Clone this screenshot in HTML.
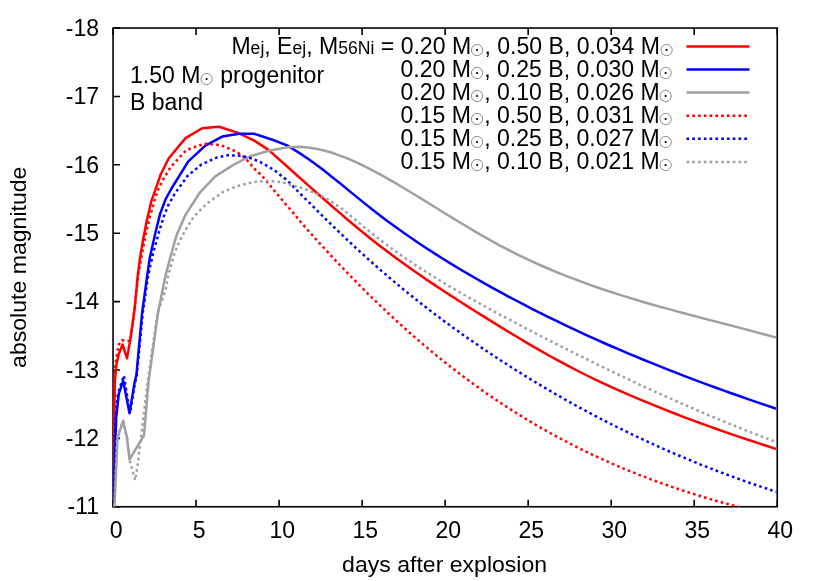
<!DOCTYPE html>
<html><head><meta charset="utf-8"><title>plot</title>
<style>
html,body{margin:0;padding:0;background:#fff;}
body{width:830px;height:581px;position:relative;overflow:hidden;font-family:"Liberation Sans",sans-serif;}
#w{position:absolute;left:0;top:0;width:830px;height:581px;will-change:transform;}
.t{position:absolute;white-space:nowrap;line-height:28.0px;height:28.0px;color:#000;}
.k{right:156.6px;font-size:23.6px;transform:scaleX(0.977);transform-origin:100% 50%;}
.l{left:129.9px;font-size:23.3px;transform:scaleX(0.99);transform-origin:0 50%;}
.s{font-size:18px;}
.sun{display:inline-block;vertical-align:baseline;position:relative;top:3px;overflow:visible;}
</style></head><body><div id="w">
<svg width="830" height="581" viewBox="0 0 830 581" style="position:absolute;left:0;top:0">
<defs><clipPath id="c"><rect x="113.05" y="28.05" width="663.40" height="478.70"/></clipPath></defs>
<g fill="none" stroke-width="2.50">
<line x1="686.5" y1="46.4" x2="749.5" y2="46.4" stroke="#ff0000"/>
<line x1="686.5" y1="69.5" x2="749.5" y2="69.5" stroke="#0000ff"/>
<line x1="686.5" y1="92.6" x2="749.5" y2="92.6" stroke="#a0a0a0"/>
<line x1="686.5" y1="115.7" x2="749.5" y2="115.7" stroke="#ff0000" stroke-dasharray="2.65 3.13"/>
<line x1="686.5" y1="138.8" x2="749.5" y2="138.8" stroke="#0000ff" stroke-dasharray="2.65 3.13"/>
<line x1="686.5" y1="161.9" x2="749.5" y2="161.9" stroke="#a0a0a0" stroke-dasharray="2.65 3.13"/>
</g>
<g fill="none" stroke="#000" stroke-width="1.6">
<rect x="113.05" y="28.05" width="664.20" height="478.70"/>
<path d="M113.05,506.75v-7.0M113.05,28.05v7.0M196.07,506.75v-7.0M196.07,28.05v7.0M279.10,506.75v-7.0M279.10,28.05v7.0M362.12,506.75v-7.0M362.12,28.05v7.0M445.15,506.75v-7.0M445.15,28.05v7.0M528.17,506.75v-7.0M528.17,28.05v7.0M611.20,506.75v-7.0M611.20,28.05v7.0M694.22,506.75v-7.0M694.22,28.05v7.0M777.25,506.75v-7.0M777.25,28.05v7.0M113.05,28.05h7.0M113.05,96.44h7.0M113.05,164.82h7.0M113.05,233.21h7.0M113.05,301.59h7.0M113.05,369.98h7.0M113.05,438.36h7.0M113.05,506.75h7.0"/>
</g>
<g clip-path="url(#c)" fill="none" stroke-width="2.50" stroke-linejoin="round">
<polyline points="113.3,506.7 114.0,440.0 114.8,383.0 116.3,365.3 118.8,354.0 122.6,344.5 127.0,358.4 130.2,340.2 134.5,310.0 137.7,276.4 140.0,257.9 143.2,239.0 146.9,220.2 151.3,201.3 155.0,190.9 160.7,174.5 168.8,158.2 185.6,138.1 202.1,128.3 219.1,126.8 236.7,132.4 254.0,140.4 268.8,150.1 287.7,167.0 300.0,178.0 308.0,185.1 316.0,192.2 324.0,199.2 332.0,206.2 340.0,213.1 348.0,220.0 356.0,226.7 364.0,233.2 372.0,239.7 380.0,245.9 388.0,252.0 396.0,258.0 404.0,263.8 412.0,269.5 420.0,275.1 428.0,280.6 436.0,285.9 444.0,291.2 452.0,296.4 460.0,301.5 468.0,306.6 476.0,311.7 484.0,316.6 492.0,321.6 500.0,326.6 508.0,331.5 516.0,336.3 524.0,341.1 532.0,345.8 540.0,350.4 548.0,355.0 556.0,359.4 564.0,363.7 572.0,367.9 580.0,372.0 588.0,376.0 596.0,379.8 604.0,383.6 612.0,387.3 620.0,390.8 628.0,394.3 636.0,397.8 644.0,401.1 652.0,404.4 660.0,407.7 668.0,410.9 676.0,414.0 684.0,417.1 692.0,420.1 700.0,423.0 708.0,425.9 716.0,428.8 724.0,431.6 732.0,434.4 740.0,437.1 748.0,439.8 756.0,442.4 764.0,445.0 772.0,447.6 776.6,449.1" stroke="#ff0000"/>
<polyline points="113.6,506.7 115.1,447.9 116.3,416.5 118.8,393.8 123.2,380.7 129.5,413.3 134.5,382.9 136.4,375.0 142.1,312.9 147.1,276.4 149.8,257.9 152.6,245.3 155.7,231.5 160.1,213.9 165.8,198.8 171.5,188.5 188.3,161.3 205.3,145.6 222.2,136.6 239.2,133.7 254.0,133.7 273.2,140.0 287.7,145.7 300.0,153.4 308.0,158.7 316.0,164.5 324.0,170.6 332.0,176.9 340.0,183.3 348.0,189.9 356.0,196.4 364.0,202.9 372.0,209.3 380.0,215.4 388.0,221.5 396.0,227.3 404.0,233.0 412.0,238.6 420.0,244.0 428.0,249.3 436.0,254.4 444.0,259.5 452.0,264.4 460.0,269.2 468.0,273.9 476.0,278.5 484.0,283.1 492.0,287.6 500.0,291.9 508.0,296.3 516.0,300.5 524.0,304.7 532.0,308.8 540.0,312.8 548.0,316.8 556.0,320.7 564.0,324.6 572.0,328.4 580.0,332.1 588.0,335.8 596.0,339.4 604.0,343.0 612.0,346.5 620.0,349.9 628.0,353.3 636.0,356.7 644.0,360.0 652.0,363.2 660.0,366.4 668.0,369.6 676.0,372.7 684.0,375.8 692.0,378.8 700.0,381.8 708.0,384.8 716.0,387.7 724.0,390.6 732.0,393.5 740.0,396.3 748.0,399.1 756.0,401.9 764.0,404.6 772.0,407.3 776.6,408.9" stroke="#0000ff"/>
<polyline points="114.4,506.6 117.6,437.8 123.2,420.9 127.0,437.8 129.5,459.5 144.0,435.3 148.4,382.9 158.0,312.9 165.3,276.4 170.2,257.9 176.5,235.3 185.3,215.2 200.0,192.3 215.3,176.4 232.9,165.1 249.5,156.5 268.8,150.7 287.7,147.3 300.0,146.7 308.0,147.4 316.0,148.7 324.0,150.5 332.0,152.8 340.0,155.6 348.0,158.7 356.0,162.2 364.0,166.0 372.0,170.1 380.0,174.4 388.0,178.8 396.0,183.4 404.0,188.2 412.0,193.0 420.0,197.9 428.0,202.8 436.0,207.7 444.0,212.7 452.0,217.6 460.0,222.5 468.0,227.3 476.0,232.1 484.0,236.7 492.0,241.2 500.0,245.6 508.0,249.7 516.0,253.8 524.0,257.7 532.0,261.4 540.0,265.0 548.0,268.5 556.0,271.9 564.0,275.1 572.0,278.2 580.0,281.2 588.0,284.1 596.0,287.0 604.0,289.7 612.0,292.3 620.0,294.9 628.0,297.4 636.0,299.8 644.0,302.2 652.0,304.5 660.0,306.7 668.0,308.9 676.0,311.1 684.0,313.3 692.0,315.4 700.0,317.5 708.0,319.6 716.0,321.6 724.0,323.7 732.0,325.8 740.0,327.9 748.0,330.0 756.0,332.1 764.0,334.3 772.0,336.4 776.0,337.5" stroke="#a0a0a0"/>
<polyline points="113.2,506.7 113.6,440.0 114.2,383.0 115.5,365.0 117.0,354.0 118.8,344.5 122.0,340.2 126.4,340.8 130.2,341.0 134.5,310.0 138.0,276.4 141.3,257.9 143.8,244.0 146.9,229.0 150.7,213.9 155.1,198.8 157.5,190.9 163.8,178.3 170.7,167.0 186.4,150.0 204.0,143.8 220.4,145.0 236.7,151.7 245.5,158.2 254.0,168.3 262.6,176.4 275.1,191.5 287.7,206.6 292.7,212.2 300.0,221.2 308.0,230.3 316.0,239.2 324.0,248.0 332.0,256.6 340.0,265.1 348.0,273.5 356.0,281.7 364.0,289.8 372.0,297.7 380.0,305.4 388.0,313.0 396.0,320.4 404.0,327.7 412.0,334.8 420.0,341.7 428.0,348.5 436.0,355.1 444.0,361.6 452.0,367.9 460.0,374.0 468.0,380.0 476.0,385.9 484.0,391.6 492.0,397.1 500.0,402.5 508.0,407.7 516.0,412.8 524.0,417.8 532.0,422.6 540.0,427.3 548.0,431.8 556.0,436.2 564.0,440.5 572.0,444.7 580.0,448.7 588.0,452.6 596.0,456.4 604.0,460.0 612.0,463.6 620.0,467.0 628.0,470.4 636.0,473.6 644.0,476.7 652.0,479.8 660.0,482.7 668.0,485.5 676.0,488.3 684.0,490.9 692.0,493.5 700.0,496.0 708.0,498.4 716.0,500.7 724.0,503.0 732.0,505.1 740.0,507.2 745.0,508.5" stroke="#ff0000" stroke-dasharray="2.65 3.13"/>
<polyline points="113.4,506.7 114.6,447.9 115.6,416.5 118.0,393.0 123.9,375.6 130.0,413.3 135.0,382.9 136.8,375.0 142.8,312.9 148.0,276.4 152.6,255.4 155.7,244.0 159.5,230.2 163.9,216.4 168.3,205.1 175.5,192.5 187.7,175.8 201.5,164.5 216.6,157.6 227.9,155.3 240.5,155.7 252.0,158.5 262.6,163.2 275.1,170.8 287.7,180.8 300.0,193.5 308.0,201.4 316.0,209.4 324.0,217.4 332.0,225.2 340.0,232.9 348.0,240.5 356.0,248.0 364.0,255.3 372.0,262.5 380.0,269.6 388.0,276.5 396.0,283.2 404.0,289.9 412.0,296.3 420.0,302.7 428.0,308.9 436.0,315.0 444.0,321.0 452.0,326.9 460.0,332.6 468.0,338.3 476.0,343.8 484.0,349.3 492.0,354.6 500.0,359.9 508.0,365.1 516.0,370.2 524.0,375.2 532.0,380.1 540.0,384.9 548.0,389.7 556.0,394.3 564.0,398.9 572.0,403.4 580.0,407.8 588.0,412.1 596.0,416.3 604.0,420.5 612.0,424.5 620.0,428.5 628.0,432.4 636.0,436.3 644.0,440.0 652.0,443.7 660.0,447.3 668.0,450.9 676.0,454.3 684.0,457.7 692.0,461.0 700.0,464.3 708.0,467.4 716.0,470.5 724.0,473.6 732.0,476.5 740.0,479.4 748.0,482.3 756.0,485.0 764.0,487.7 772.0,490.4 777.2,492.0" stroke="#0000ff" stroke-dasharray="2.65 3.13"/>
<polyline points="114.2,506.6 117.0,437.8 123.0,420.9 127.0,437.8 130.2,462.6 135.2,480.2 137.7,465.1 140.2,442.5 141.5,434.0 147.5,382.9 157.6,312.9 165.6,290.0 168.0,276.4 173.9,255.4 177.7,245.3 185.3,230.2 194.0,216.4 206.6,203.8 222.5,192.2 237.5,186.0 253.0,182.1 266.3,180.8 281.4,182.1 297.7,187.1 300.0,187.4 308.0,190.3 316.0,193.6 324.0,197.4 332.0,201.9 340.0,207.3 348.0,213.6 356.0,220.3 364.0,227.0 372.0,233.5 380.0,239.7 388.0,245.7 396.0,251.6 404.0,257.2 412.0,262.7 420.0,268.0 428.0,273.1 436.0,278.2 444.0,283.0 452.0,287.8 460.0,292.5 468.0,297.0 476.0,301.5 484.0,305.9 492.0,310.3 500.0,314.6 508.0,318.8 516.0,323.1 524.0,327.3 532.0,331.5 540.0,335.6 548.0,339.7 556.0,343.8 564.0,347.9 572.0,351.9 580.0,355.9 588.0,359.8 596.0,363.8 604.0,367.7 612.0,371.5 620.0,375.3 628.0,379.1 636.0,382.9 644.0,386.6 652.0,390.3 660.0,393.9 668.0,397.5 676.0,401.0 684.0,404.6 692.0,408.0 700.0,411.5 708.0,414.9 716.0,418.2 724.0,421.5 732.0,424.8 740.0,428.0 748.0,431.2 756.0,434.3 764.0,437.4 772.0,440.5 777.2,442.4" stroke="#a0a0a0" stroke-dasharray="2.65 3.13"/>
</g>
<g font-family="Liberation Sans, sans-serif" font-size="23.7" fill="#000">
<text transform="translate(99.1,35.75) scale(0.973,1)" text-anchor="end">-18</text>
<text transform="translate(99.1,104.14) scale(0.973,1)" text-anchor="end">-17</text>
<text transform="translate(99.1,172.52) scale(0.973,1)" text-anchor="end">-16</text>
<text transform="translate(99.1,240.91) scale(0.973,1)" text-anchor="end">-15</text>
<text transform="translate(99.1,309.29) scale(0.973,1)" text-anchor="end">-14</text>
<text transform="translate(99.1,377.68) scale(0.973,1)" text-anchor="end">-13</text>
<text transform="translate(99.1,446.06) scale(0.973,1)" text-anchor="end">-12</text>
<text transform="translate(99.1,514.45) scale(0.973,1)" text-anchor="end">-11</text>
<text transform="translate(116.15,538.0) scale(0.973,1)" text-anchor="middle">0</text>
<text transform="translate(199.17,538.0) scale(0.973,1)" text-anchor="middle">5</text>
<text transform="translate(282.20,538.0) scale(0.973,1)" text-anchor="middle">10</text>
<text transform="translate(365.23,538.0) scale(0.973,1)" text-anchor="middle">15</text>
<text transform="translate(448.25,538.0) scale(0.973,1)" text-anchor="middle">20</text>
<text transform="translate(531.27,538.0) scale(0.973,1)" text-anchor="middle">25</text>
<text transform="translate(614.30,538.0) scale(0.973,1)" text-anchor="middle">30</text>
<text transform="translate(697.32,538.0) scale(0.973,1)" text-anchor="middle">35</text>
<text transform="translate(780.35,538.0) scale(0.973,1)" text-anchor="middle">40</text>
</g>
<g font-family="Liberation Sans, sans-serif" font-size="22.8" fill="#000">
<text transform="translate(444.6,572.3) scale(1.012,1)" text-anchor="middle">days after explosion</text>
<text transform="translate(26.2,267.25) rotate(-90) scale(1.012,1)" text-anchor="middle">absolute magnitude</text>
</g>
</svg>
<div class="t k" style="top:31.62px">M<span class="s">ej</span>, E<span class="s">ej</span>, M<span class="s">56Ni</span> = 0.20 M<svg class="sun" width="13.61" height="14" viewBox="0 0 13.3 14" preserveAspectRatio="none"><circle cx="6.3" cy="7" r="5.62" fill="none" stroke="#333" stroke-width="0.55"/><circle cx="6.3" cy="7" r="1.1" fill="#000"/></svg>, 0.50 B, 0.034 M<svg class="sun" width="13.61" height="14" viewBox="0 0 13.3 14" preserveAspectRatio="none"><circle cx="6.3" cy="7" r="5.62" fill="none" stroke="#333" stroke-width="0.55"/><circle cx="6.3" cy="7" r="1.1" fill="#000"/></svg></div>
<div class="t k" style="top:54.72px">0.20 M<svg class="sun" width="13.61" height="14" viewBox="0 0 13.3 14" preserveAspectRatio="none"><circle cx="6.3" cy="7" r="5.62" fill="none" stroke="#333" stroke-width="0.55"/><circle cx="6.3" cy="7" r="1.1" fill="#000"/></svg>, 0.25 B, 0.030 M<svg class="sun" width="13.61" height="14" viewBox="0 0 13.3 14" preserveAspectRatio="none"><circle cx="6.3" cy="7" r="5.62" fill="none" stroke="#333" stroke-width="0.55"/><circle cx="6.3" cy="7" r="1.1" fill="#000"/></svg></div>
<div class="t k" style="top:77.82px">0.20 M<svg class="sun" width="13.61" height="14" viewBox="0 0 13.3 14" preserveAspectRatio="none"><circle cx="6.3" cy="7" r="5.62" fill="none" stroke="#333" stroke-width="0.55"/><circle cx="6.3" cy="7" r="1.1" fill="#000"/></svg>, 0.10 B, 0.026 M<svg class="sun" width="13.61" height="14" viewBox="0 0 13.3 14" preserveAspectRatio="none"><circle cx="6.3" cy="7" r="5.62" fill="none" stroke="#333" stroke-width="0.55"/><circle cx="6.3" cy="7" r="1.1" fill="#000"/></svg></div>
<div class="t k" style="top:100.92px">0.15 M<svg class="sun" width="13.61" height="14" viewBox="0 0 13.3 14" preserveAspectRatio="none"><circle cx="6.3" cy="7" r="5.62" fill="none" stroke="#333" stroke-width="0.55"/><circle cx="6.3" cy="7" r="1.1" fill="#000"/></svg>, 0.50 B, 0.031 M<svg class="sun" width="13.61" height="14" viewBox="0 0 13.3 14" preserveAspectRatio="none"><circle cx="6.3" cy="7" r="5.62" fill="none" stroke="#333" stroke-width="0.55"/><circle cx="6.3" cy="7" r="1.1" fill="#000"/></svg></div>
<div class="t k" style="top:124.02px">0.15 M<svg class="sun" width="13.61" height="14" viewBox="0 0 13.3 14" preserveAspectRatio="none"><circle cx="6.3" cy="7" r="5.62" fill="none" stroke="#333" stroke-width="0.55"/><circle cx="6.3" cy="7" r="1.1" fill="#000"/></svg>, 0.25 B, 0.027 M<svg class="sun" width="13.61" height="14" viewBox="0 0 13.3 14" preserveAspectRatio="none"><circle cx="6.3" cy="7" r="5.62" fill="none" stroke="#333" stroke-width="0.55"/><circle cx="6.3" cy="7" r="1.1" fill="#000"/></svg></div>
<div class="t k" style="top:147.12px">0.15 M<svg class="sun" width="13.61" height="14" viewBox="0 0 13.3 14" preserveAspectRatio="none"><circle cx="6.3" cy="7" r="5.62" fill="none" stroke="#333" stroke-width="0.55"/><circle cx="6.3" cy="7" r="1.1" fill="#000"/></svg>, 0.10 B, 0.021 M<svg class="sun" width="13.61" height="14" viewBox="0 0 13.3 14" preserveAspectRatio="none"><circle cx="6.3" cy="7" r="5.62" fill="none" stroke="#333" stroke-width="0.55"/><circle cx="6.3" cy="7" r="1.1" fill="#000"/></svg></div>
<div class="t l" style="top:61.22px">1.50 M<svg class="sun" width="13.43" height="14" viewBox="0 0 13.3 14" preserveAspectRatio="none"><circle cx="6.3" cy="7" r="5.62" fill="none" stroke="#333" stroke-width="0.55"/><circle cx="6.3" cy="7" r="1.1" fill="#000"/></svg> progenitor</div>
<div class="t l" style="top:88.12px">B band</div>
</div></body></html>
